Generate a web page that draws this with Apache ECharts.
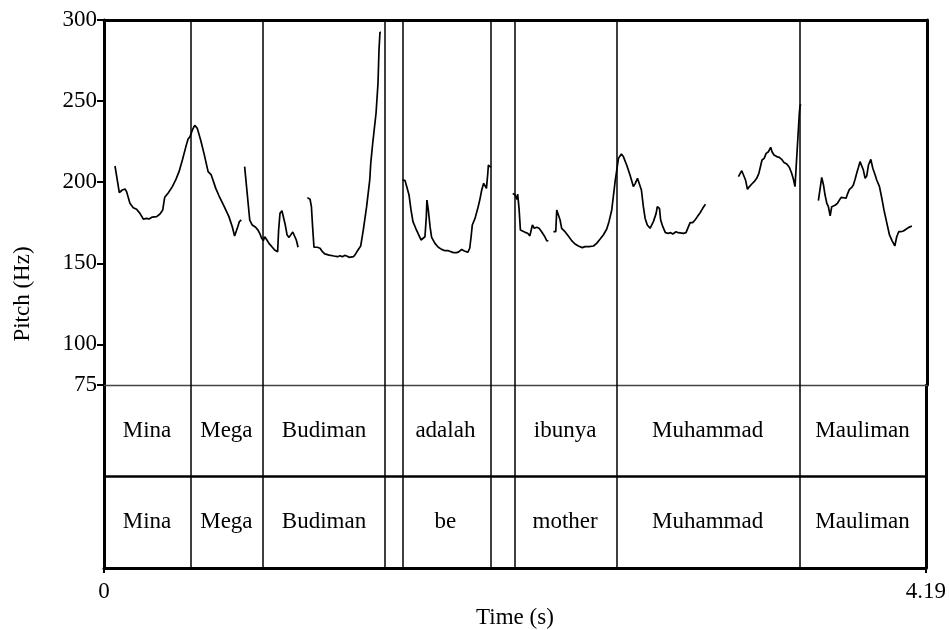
<!DOCTYPE html>
<html>
<head>
<meta charset="utf-8">
<script src="https://cdn.jsdelivr.net/npm/echarts@6/dist/echarts.min.js"></script>
<style>
html,body{margin:0;padding:0;background:#fff;}
#chart{width:949px;height:630px;}
</style>
</head>
<body>
<div id="chart"></div>
<script>
// ---- data ----
const pitchTicks = [75, 100, 150, 200, 250, 300];
const timeTicks = [0, 4.19];
const tierBounds = [0, 0.438, 0.810, 1.433, 1.516, 1.965, 2.092, 2.610, 3.544, 4.19];
const tier1Words = ["Mina", "Mega", "Budiman", "", "adalah", "", "ibunya", "Muhammad", "Mauliman"];
const tier2Words = ["Mina", "Mega", "Budiman", "", "be", "", "mother", "Muhammad", "Mauliman"];

const segMinaMega = [[0.056,210.0],[0.078,193.6],[0.093,195.2],[0.107,195.8],[0.115,194.2],[0.132,187.0],[0.149,184.3],[0.166,183.3],[0.183,180.8],[0.200,177.3],[0.217,177.7],[0.229,177.3],[0.246,178.5],[0.268,178.8],[0.285,180.4],[0.299,182.9],[0.309,190.7],[0.326,193.2],[0.348,197.3],[0.365,201.4],[0.382,206.5],[0.399,213.7],[0.416,221.5],[0.428,226.6],[0.438,228.1],[0.450,232.2],[0.462,235.1],[0.475,233.2],[0.492,226.0],[0.509,217.8],[0.530,206.5],[0.546,204.5],[0.555,203.4],[0.569,196.2],[0.586,191.5],[0.611,185.3],[0.636,178.8],[0.653,172.6],[0.665,166.9],[0.674,166.4],[0.681,172.6],[0.689,175.7],[0.699,176.7]];
const segMegaBudi = [[0.716,209.6],[0.742,176.7],[0.755,173.6],[0.772,172.2],[0.784,170.5],[0.794,168.1],[0.803,165.4],[0.811,164.0],[0.818,166.4],[0.827,164.8],[0.840,162.3],[0.857,159.9],[0.869,158.2],[0.879,157.2],[0.884,157.2],[0.889,170.5],[0.896,180.8],[0.906,182.4],[0.915,181.2],[0.923,173.6],[0.932,167.5],[0.942,166.0],[0.952,166.9],[0.961,169.3],[0.971,169.5],[0.979,164.4],[0.988,159.9]];
const segBudiman = [[1.035,190.5],[1.049,189.5],[1.056,184.9],[1.062,172.6],[1.069,159.9],[1.086,159.9],[1.100,159.3],[1.112,157.2],[1.124,155.8],[1.146,155.1],[1.171,154.5],[1.188,154.1],[1.202,154.7],[1.214,154.1],[1.225,154.9],[1.236,154.5],[1.247,153.7],[1.256,154.5],[1.270,154.1],[1.281,155.8],[1.293,158.2],[1.307,160.7],[1.320,170.5],[1.337,184.9],[1.353,201.4],[1.358,211.6],[1.368,224.0],[1.385,242.5],[1.395,261.0],[1.400,281.5],[1.405,292.4],[1.410,292.4]];
const segAdalah = [[1.519,201.4],[1.533,201.0],[1.541,197.3],[1.553,192.1],[1.563,182.9],[1.573,175.7],[1.587,171.6],[1.600,168.1],[1.614,164.4],[1.624,165.4],[1.634,166.4],[1.641,178.8],[1.644,189.0],[1.651,182.9],[1.660,172.6],[1.668,166.0],[1.685,162.3],[1.702,159.9],[1.719,158.6],[1.736,157.8],[1.753,157.8],[1.763,156.8],[1.779,156.6],[1.796,156.6],[1.808,157.2],[1.821,158.6],[1.832,157.8],[1.842,157.2],[1.852,156.8],[1.862,159.3],[1.869,166.4],[1.875,173.6],[1.889,177.7],[1.903,183.9],[1.913,189.0],[1.923,195.2],[1.933,199.3],[1.940,200.3],[1.947,196.2],[1.954,205.5],[1.957,210.6],[1.964,209.6],[1.970,209.2]];
const segIbunya1 = [[2.081,193.1],[2.093,192.1],[2.103,189.4],[2.106,192.7],[2.113,183.9],[2.120,170.5],[2.130,169.5],[2.144,169.1],[2.157,168.5],[2.168,166.9],[2.174,166.4],[2.181,173.6],[2.191,171.6],[2.203,172.2],[2.215,171.6],[2.228,169.5],[2.242,166.9],[2.254,164.0],[2.262,163.8]];
const segIbunya2 = [[2.288,169.5],[2.300,169.5],[2.305,182.9],[2.313,181.9],[2.322,176.7],[2.330,171.6],[2.347,169.5],[2.364,166.9],[2.381,164.0],[2.398,161.9],[2.415,160.7],[2.435,159.7],[2.449,160.3],[2.469,160.3],[2.492,160.7],[2.508,162.3],[2.525,164.8],[2.542,167.5],[2.559,171.0],[2.571,175.7],[2.585,182.9],[2.593,191.1],[2.602,200.3],[2.610,207.0],[2.619,214.7],[2.634,217.4],[2.644,215.8],[2.661,210.6],[2.678,204.5],[2.695,197.3],[2.705,199.3],[2.716,202.4],[2.726,201.4],[2.736,195.2],[2.746,184.9],[2.755,177.7],[2.766,173.6],[2.780,171.6],[2.789,172.6],[2.797,175.7],[2.811,180.8],[2.817,184.9],[2.828,183.9],[2.834,176.7],[2.845,172.6],[2.858,168.9],[2.873,168.5],[2.885,168.9],[2.896,168.1],[2.906,167.5],[2.912,169.5],[2.923,168.9],[2.933,168.5],[2.950,168.5],[2.963,168.9],[2.974,172.2],[2.984,175.1],[2.997,175.1],[3.009,176.7],[3.021,178.8],[3.035,181.2],[3.048,183.9],[3.062,186.4]];
const segMuhammad2 = [[3.230,203.4],[3.238,204.5],[3.247,207.1],[3.255,205.9],[3.266,201.4],[3.276,195.6],[3.286,197.3],[3.298,198.9],[3.310,200.3],[3.323,202.4],[3.334,205.5],[3.344,210.6],[3.350,213.7],[3.361,214.7],[3.371,217.8],[3.383,218.8],[3.394,221.5],[3.401,218.8],[3.411,216.8],[3.425,215.8],[3.438,215.3],[3.450,214.1],[3.462,212.1],[3.476,211.2],[3.489,209.2],[3.501,205.5],[3.510,201.8],[3.518,197.3],[3.527,215.8],[3.535,232.2],[3.540,242.5],[3.544,247.6],[3.550,247.6]];
const segMauliman = [[3.637,188.6],[3.646,189.0],[3.654,203.0],[3.663,198.3],[3.671,192.1],[3.680,187.0],[3.688,184.9],[3.697,179.2],[3.705,184.9],[3.722,185.8],[3.734,187.0],[3.744,189.0],[3.754,190.7],[3.764,190.7],[3.778,190.1],[3.785,192.7],[3.795,195.6],[3.807,196.8],[3.815,198.3],[3.824,201.8],[3.832,205.5],[3.841,209.2],[3.849,212.7],[3.858,213.3],[3.866,207.5],[3.875,202.4],[3.883,203.8],[3.892,210.6],[3.904,214.1],[3.914,208.6],[3.926,204.5],[3.934,201.4],[3.948,197.3],[3.960,190.1],[3.971,182.9],[3.985,175.1],[3.999,167.5],[4.012,164.0],[4.026,160.7],[4.036,166.4],[4.046,169.5],[4.057,169.5],[4.070,169.9],[4.083,171.0],[4.095,172.0],[4.113,173.0]];

const pitchSegments = [segMinaMega, segMegaBudi, segBudiman, segAdalah, segIbunya1, segIbunya2, segMuhammad2, segMauliman];

// ---- chart ----
const FONT = '"Liberation Serif", "Times New Roman", serif';
const FS = 23;
const chart = echarts.init(document.getElementById('chart'), null, {renderer: 'canvas'});

const innerBounds = tierBounds.slice(1, -1);
function tierPoints(words, yVal) {
  const out = [];
  words.forEach((w, i) => {
    if (w) out.push([(tierBounds[i] + tierBounds[i + 1]) / 2, yVal, w]);
  });
  return out;
}

const series = [];
pitchSegments.forEach((seg) => {
  series.push({
    type: 'line', xAxisIndex: 0, yAxisIndex: 0, data: seg,
    showSymbol: false, symbol: 'none', smooth: false,
    lineStyle: {color: '#000', width: 1.7}, z: 5,
    emphasis: {disabled: true}
  });
});
// full-height interval boundaries (pitch area + both tiers)
series.push({
  type: 'line', xAxisIndex: 3, yAxisIndex: 4, data: [],
  markLine: {
    silent: true, symbol: 'none', label: {show: false},
    lineStyle: {color: '#000', width: 1.5, type: 'solid'},
    data: innerBounds.map(b => ({xAxis: b}))
  }
});
// tier separator
series.push({
  type: 'line', xAxisIndex: 2, yAxisIndex: 2, data: [],
  markLine: {
    silent: true, symbol: 'none', label: {show: false},
    lineStyle: {color: '#000', width: 2.5, type: 'solid'},
    data: [{yAxis: 1}]
  }
});
[tierPoints(tier1Words, 1.5), tierPoints(tier2Words, 0.5)].forEach(pts => {
  series.push({
    type: 'scatter', xAxisIndex: 2, yAxisIndex: 2, data: pts,
    symbolSize: 1, itemStyle: {color: '#000', opacity: 0}, silent: true,
    emphasis: {disabled: true},
    label: {show: true, position: 'inside', formatter: p => p.value[2],
      color: '#000', opacity: 1, textBorderWidth: 0, textBorderColor: 'transparent',
      fontFamily: FONT, fontSize: FS}
  });
});

const frame = {show: true, onZero: false, lineStyle: {color: '#000', width: 3}};
const hidden = {show: false};

chart.setOption({
  animation: false,
  backgroundColor: '#fff',
  grid: [
    {left: 104, top: 20, width: 823, height: 365},
    {left: 104, top: 385, width: 823, height: 183},
    {left: 104, top: 20, width: 823, height: 548}
  ],
  xAxis: [
    {gridIndex: 0, type: 'value', min: 0, max: 4.19, position: 'bottom',
      axisLine: {show: true, onZero: false, lineStyle: {color: '#444', width: 1.3}},
      axisTick: hidden, axisLabel: hidden, splitLine: hidden},
    {gridIndex: 0, type: 'value', min: 0, max: 4.19, position: 'top',
      axisLine: frame, axisTick: hidden, axisLabel: hidden, splitLine: hidden},
    {gridIndex: 1, type: 'value', min: 0, max: 4.19, position: 'bottom',
      axisLine: frame,
      axisTick: {show: true, customValues: timeTicks, length: 5, lineStyle: {color: '#000', width: 2}},
      axisLabel: {show: true, customValues: timeTicks, showMinLabel: true, showMaxLabel: true,
        formatter: v => String(v), color: '#000', fontFamily: FONT, fontSize: FS, margin: 12},
      splitLine: hidden,
      name: 'Time (s)', nameLocation: 'middle', nameGap: 38,
      nameTextStyle: {color: '#000', fontFamily: FONT, fontSize: FS}},
    {gridIndex: 2, type: 'value', min: 0, max: 4.19, show: false}
  ],
  yAxis: [
    {gridIndex: 0, type: 'value', min: 75, max: 300, position: 'left',
      axisLine: frame,
      axisTick: {show: true, customValues: pitchTicks, length: 7, lineStyle: {color: '#000', width: 2}},
      axisLabel: {show: true, customValues: pitchTicks, showMinLabel: true, showMaxLabel: true,
        color: '#000', fontFamily: FONT, fontSize: FS, margin: 7},
      splitLine: hidden},
    {gridIndex: 0, type: 'value', min: 75, max: 300, position: 'right',
      axisLine: frame, axisTick: hidden, axisLabel: hidden, splitLine: hidden},
    {gridIndex: 1, type: 'value', min: 0, max: 2, position: 'left',
      axisLine: frame, axisTick: hidden, axisLabel: hidden, splitLine: hidden},
    {gridIndex: 1, type: 'value', min: 0, max: 2, position: 'right',
      axisLine: frame, axisTick: hidden, axisLabel: hidden, splitLine: hidden},
    {gridIndex: 2, type: 'value', min: 0, max: 1, position: 'left',
      axisLine: hidden, axisTick: hidden, axisLabel: hidden, splitLine: hidden,
      name: 'Pitch (Hz)', nameLocation: 'middle', nameGap: 70, nameRotate: 90,
      nameTextStyle: {color: '#000', fontFamily: FONT, fontSize: FS}}
  ],
  series: series
});
</script>
</body>
</html>
